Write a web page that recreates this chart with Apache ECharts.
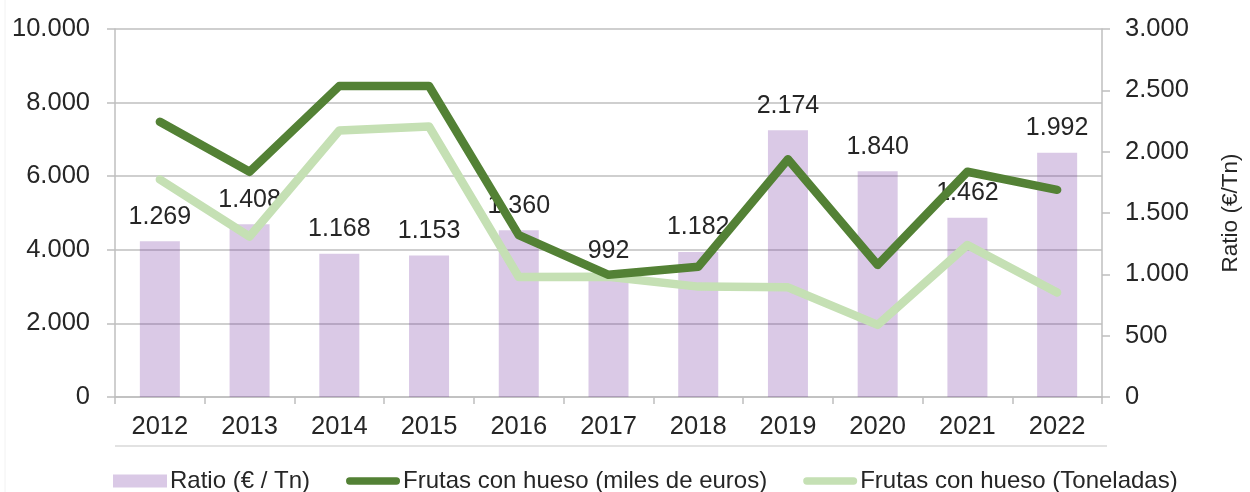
<!DOCTYPE html>
<html>
<head>
<meta charset="utf-8">
<title>Frutas con hueso</title>
<script src="https://cdn.jsdelivr.net/npm/echarts@6/dist/echarts.min.js"></script>
<style>
  html, body { margin: 0; padding: 0; background: #fff; }
  #chart { width: 1250px; height: 492px; }
</style>
</head>
<body>
<div id="chart"></div>
<script>
// años
var years = ['2012', '2013', '2014', '2015', '2016', '2017', '2018', '2019', '2020', '2021', '2022']
// ratio €/Tn (eje derecho, barras)
var ratio = [1269, 1408, 1168, 1153, 1360, 992, 1182, 2174, 1840, 1462, 1992]
// miles de euros (eje izquierdo)
var milesEuros = [7480, 6120, 8450, 8450, 4400, 3320, 3540, 6460, 3590, 6120, 5630]
// toneladas (eje izquierdo)
var toneladas = [5910, 4360, 7240, 7350, 3260, 3270, 3000, 2980, 1960, 4130, 2840]

var FONT = '"Liberation Sans", Arial, sans-serif'
var TXT = '#262626'
var AXIS = '#bfbfbf'
// icono de línea gruesa con extremos redondeados para la leyenda
var LINE_ICON = 'path://M4,0 H55 A4,4 0 0 1 55,8 H4 A4,4 0 0 1 4,0 Z'

function miles(v) {
  return String(v).replace(/\B(?=(\d{3})+(?!\d))/g, '.')
}

var chart = echarts.init(document.getElementById('chart'), null, { renderer: 'canvas' })

chart.setOption({
  animation: false,
  textStyle: { fontFamily: FONT },
  grid: { left: 115, right: 143, top: 29, bottom: 95, containLabel: false },
  legend: {
    left: 108,
    top: 464,
    itemWidth: 54,
    itemHeight: 13,
    itemGap: 36,
    symbolKeepAspect: true,
    textStyle: { fontSize: 24, color: TXT, fontFamily: FONT, padding: [0, 0, 0, -2] },
    data: [
      { name: 'Ratio (€ / Tn)', icon: 'rect' },
      { name: 'Frutas con hueso (miles de euros)', icon: LINE_ICON },
      { name: 'Frutas con hueso (Toneladas)', icon: LINE_ICON }
    ]
  },
  xAxis: {
    type: 'category',
    data: years,
    boundaryGap: true,
    axisLine: { lineStyle: { color: AXIS, width: 1.5 } },
    axisTick: { show: true, length: 7, lineStyle: { color: AXIS, width: 1.5 } },
    axisLabel: { color: TXT, fontSize: 25.5, margin: 17, fontFamily: FONT }
  },
  yAxis: [
    {
      type: 'value',
      min: 0,
      max: 10000,
      interval: 2000,
      axisLine: { show: true, lineStyle: { color: AXIS, width: 1.5 } },
      axisTick: { show: true, length: 8, lineStyle: { color: AXIS, width: 1.5 } },
      splitLine: { show: true, lineStyle: { color: AXIS, width: 1.5 } },
      axisLabel: { color: TXT, fontSize: 25.5, margin: 25, fontFamily: FONT, formatter: miles }
    },
    {
      type: 'value',
      position: 'right',
      min: 0,
      max: 3000,
      interval: 500,
      name: 'Ratio (€/Tn)',
      nameLocation: 'middle',
      nameRotate: 90,
      nameGap: 117,
      nameTextStyle: { color: TXT, fontSize: 22.5, fontFamily: FONT },
      axisLine: { show: true, lineStyle: { color: AXIS, width: 1.5 } },
      axisTick: { show: true, length: 8, lineStyle: { color: AXIS, width: 1.5 } },
      splitLine: { show: false },
      axisLabel: { color: TXT, fontSize: 25.5, margin: 23, fontFamily: FONT, formatter: miles }
    }
  ],
  series: [
    {
      name: 'Ratio (€ / Tn)',
      type: 'bar',
      yAxisIndex: 1,
      data: ratio,
      barWidth: 40,
      itemStyle: { color: 'rgba(112,48,160,0.26)' },
      label: {
        show: true,
        position: 'top',
        distance: 12,
        color: TXT,
        fontSize: 25,
        fontFamily: FONT,
        formatter: function(p) { return miles(p.value) }
      },
      z: 2
    },
    {
      name: 'Frutas con hueso (miles de euros)',
      type: 'line',
      yAxisIndex: 0,
      data: milesEuros,
      showSymbol: false,
      symbol: 'none',
      lineStyle: { color: '#538135', width: 8.5, cap: 'round', join: 'round' },
      itemStyle: { color: '#538135' },
      z: 4
    },
    {
      name: 'Frutas con hueso (Toneladas)',
      type: 'line',
      yAxisIndex: 0,
      data: toneladas,
      showSymbol: false,
      symbol: 'none',
      lineStyle: { color: '#c5e0b4', width: 8.5, cap: 'round', join: 'round' },
      itemStyle: { color: '#c5e0b4' },
      z: 3
    }
  ],
  graphic: [
    {
      type: 'line',
      shape: { x1: 115, y1: 446, x2: 1107, y2: 446 },
      style: { stroke: '#d9d9d9', lineWidth: 1.5 },
      silent: true
    },
    {
      type: 'line',
      shape: { x1: 5, y1: 0, x2: 5, y2: 492 },
      style: { stroke: '#f2f2f2', lineWidth: 1 },
      silent: true
    }
  ]
})
</script>
</body>
</html>
